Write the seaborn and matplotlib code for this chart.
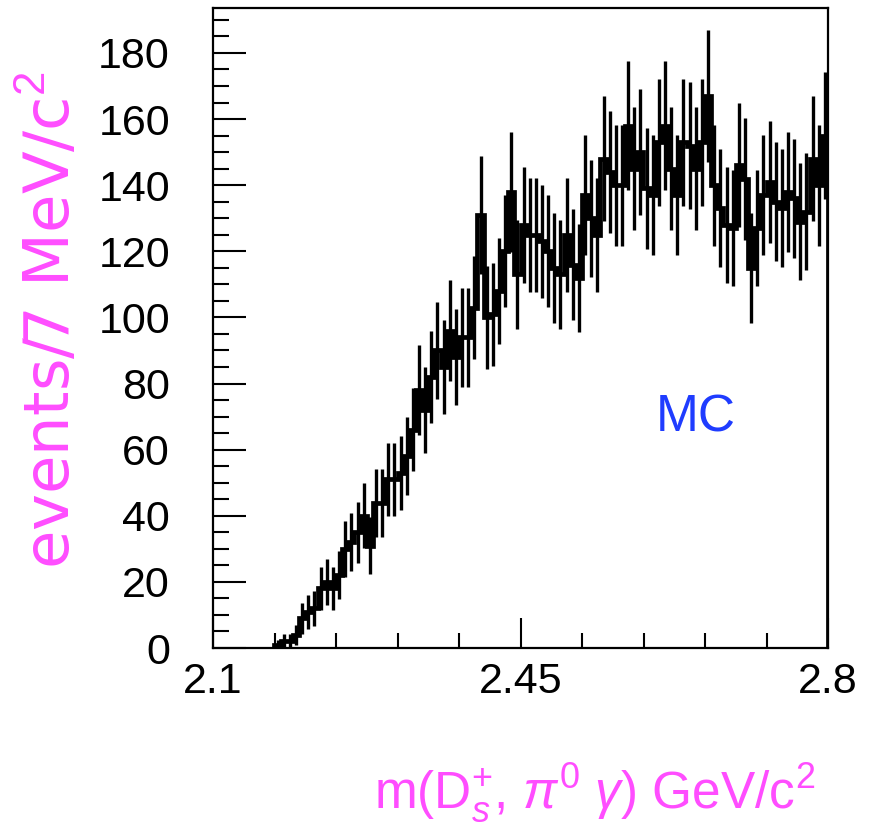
import numpy as np
import matplotlib
matplotlib.use("Agg")
import matplotlib.pyplot as plt
from matplotlib.ticker import MultipleLocator, FixedLocator
import seaborn as sns

# m(Ds+, pi0 gamma) spectrum, MC, 7 MeV/c^2 bins between 2.1 and 2.8 GeV/c^2
bin_lo = 2.1
bin_hi = 2.8
n_bins = 100

counts = [
    0, 0, 0, 0, 0, 0, 0, 0, 0, 0,
    1, 2, 2, 4, 9, 11, 12, 18, 20, 18,
    22, 30, 32, 35, 40, 31, 44, 44, 51, 51,
    53, 58, 66, 78, 72, 82, 90, 85, 96, 88,
    94, 94, 103, 131, 100, 101, 108, 120, 138, 113,
    128, 125, 125, 123, 120, 115, 113, 125, 116, 112,
    137, 130, 125, 148, 144, 140, 140, 158, 145, 150,
    139, 137, 153, 158, 145, 137, 153, 152, 145, 153,
    167, 140, 133, 128, 127, 146, 142, 115, 127, 137,
    141, 135, 133, 138, 136, 129, 132, 148, 140, 155,
]
# weighted MC: error = sqrt(sum w^2) = sqrt(w * N)
mc_weight = 2.4

x_ticks_major = [2.1, 2.45, 2.8]
x_tick_labels = ["2.1", "2.45", "2.8"]
y_ticks_major = [0, 20, 40, 60, 80, 100, 120, 140, 160, 180]

MAGENTA = "#ff4dff"
BLUE = "#1f3cff"


def main():
    sns.set_style("white")
    plt.rcParams["font.family"] = ["Liberation Sans", "DejaVu Sans"]
    plt.rcParams["mathtext.fontset"] = "custom"
    plt.rcParams["mathtext.rm"] = "Liberation Sans"
    plt.rcParams["mathtext.it"] = "Liberation Sans:italic"

    n = np.array(counts, dtype=float)
    edges = np.linspace(bin_lo, bin_hi, n_bins + 1)
    centers = 0.5 * (edges[:-1] + edges[1:])
    err = np.sqrt(mc_weight * n)
    first = int(np.argmax(n > 0))

    fig = plt.figure(figsize=(8.8, 8.3), dpi=100)
    ax = fig.add_axes([213 / 880, 1 - 648 / 830, 615 / 880, 640 / 830])

    ax.stairs(n[first:], edges[first:], color="black", lw=3.4, baseline=0)
    ax.errorbar(centers[first:], n[first:], yerr=err[first:], fmt="none",
                ecolor="black", elinewidth=2.4, capsize=0)

    ax.set_xlim(bin_lo, bin_hi)
    ax.set_ylim(0, 193.6)

    ax.xaxis.set_major_locator(FixedLocator(x_ticks_major))
    ax.set_xticklabels(x_tick_labels)
    ax.xaxis.set_minor_locator(MultipleLocator(0.07))
    ax.yaxis.set_major_locator(FixedLocator(y_ticks_major))
    ax.yaxis.set_minor_locator(MultipleLocator(5))

    ax.tick_params(axis="x", which="major", direction="in", length=21.5,
                   width=1.5, labelsize=31, pad=10, bottom=True, top=False,
                   color="black", labelcolor="black")
    ax.tick_params(axis="x", which="minor", direction="in", length=10.8,
                   width=1.5, bottom=True, top=False, color="black")
    ax.tick_params(axis="y", which="major", direction="in", length=23.8,
                   width=1.5, labelsize=31, pad=31, left=True, right=False,
                   color="black", labelcolor="black")
    ax.tick_params(axis="y", which="minor", direction="in", length=11.5,
                   width=1.5, left=True, right=False, color="black")

    for side in ax.spines.values():
        side.set_linewidth(1.6)
        side.set_color("black")

    ax.text(0.785, 0.36, "MC", transform=ax.transAxes, color=BLUE,
            fontsize=37, ha="center", va="center")

    fig.text(0.057, 1 - 320 / 830, r"events/7 MeV/c$^2$", rotation=90,
             color=MAGENTA, fontsize=45, ha="center", va="center",
             family="DejaVu Sans")
    fig.text(815 / 880, 1 - 792 / 830,
             r"m(D$^{+}_{s}$, $\pi^{0}$ $\gamma$) GeV/c$^{2}$",
             color=MAGENTA, fontsize=37, ha="right", va="center")

    fig.savefig("out.png", dpi=100)
    plt.close(fig)


if __name__ == "__main__":
    main()
